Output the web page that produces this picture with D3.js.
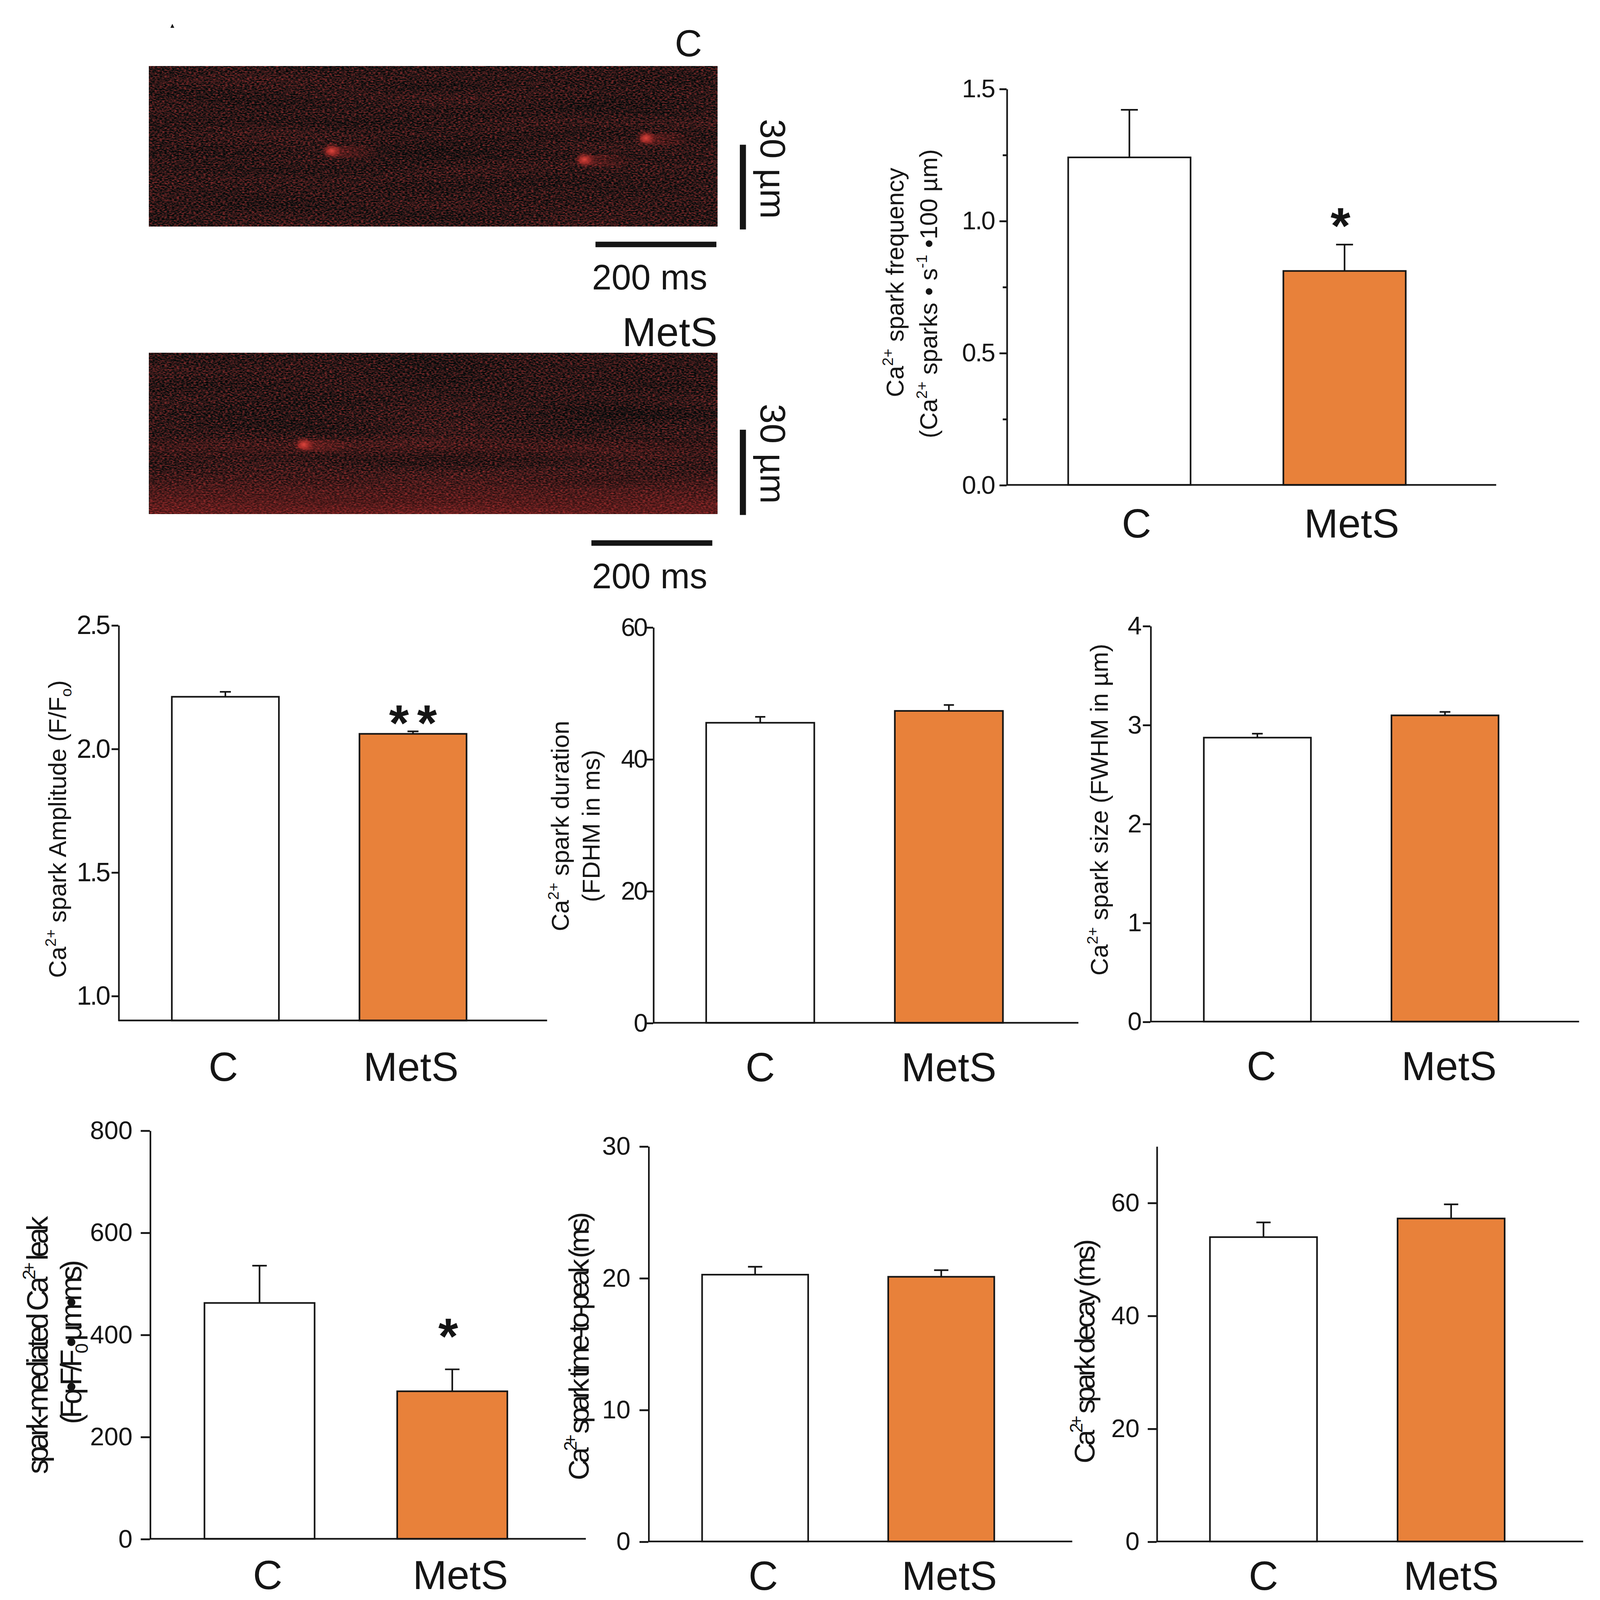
<!DOCTYPE html>
<html>
<head>
<meta charset="utf-8">
<script src="https://cdn.jsdelivr.net/npm/d3@7"></script>
<style>
  html, body { margin: 0; padding: 0; background: #fff; overflow: hidden; }
  svg { display: block; width: 100vw; height: 100vh; }
</style>
</head>
<body>
<div id="fig"></div>
<script>
// ---- data ----
var groups = ["C", "MetS"];

var freqMean = [1.24, 0.81],  freqSem = [0.18, 0.10],  freqSig = ["", "*"];
var ampMean = [2.21, 2.06],   ampSem = [0.02, 0.01],   ampSig = ["", "**"];
var durMean = [45.5, 47.3],   durSem = [0.9, 0.9],     durSig = ["", ""];
var sizeMean = [2.87, 3.095], sizeSem = [0.04, 0.035], sizeSig = ["", ""];
var leakMean = [462, 289],    leakSem = [73, 43],      leakSig = ["", "*"];
var ttpMean = [20.25, 20.09], ttpSem = [0.6, 0.5],     ttpSig = ["", ""];
var decayMean = [53.9, 57.2], decaySem = [2.6, 2.5],   decaySig = ["", ""];

var freqTicks = [0, 0.5, 1.0, 1.5], freqMinor = [0.25, 0.75, 1.25];
var ampTicks = [1.0, 1.5, 2.0, 2.5];
var durTicks = [0, 20, 40, 60];
var sizeTicks = [0, 1, 2, 3, 4];
var leakTicks = [0, 200, 400, 600, 800];
var ttpTicks = [0, 10, 20, 30];
var decayTicks = [0, 20, 40, 60];

// line-scan images: spark time (ms) and position (µm)
var scanTimeMax = 940, scanPosMax = 56.7;
var sparkTimeC = [302, 720, 822], sparkPosC = [30.0, 33.1, 25.5];
var sparkTimeM = [256], sparkPosM = [32.3];
var scaleBarMs = 200, scaleBarUm = 30;

// ---- setup ----
var W = 1536, H = 1569;
var FONT = "'Liberation Sans', Arial, Helvetica, sans-serif";
var ORANGE = "#E8813A", INK = "#151515";

var svg = d3.select("#fig").append("svg")
    .attr("viewBox", "0 0 " + W + " " + H)
    .style("font-family", FONT);

var defs = svg.append("defs");

// noisy dark-red texture for the confocal line scans
var f = defs.append("filter").attr("id", "noise")
    .attr("x", 0).attr("y", 0).attr("width", 1).attr("height", 1)
    .attr("color-interpolation-filters", "sRGB");
f.append("feTurbulence").attr("type", "fractalNoise").attr("baseFrequency", "0.42 0.8")
    .attr("numOctaves", 2).attr("seed", 7).attr("result", "fine");
f.append("feTurbulence").attr("type", "fractalNoise").attr("baseFrequency", "0.006 0.07")
    .attr("numOctaves", 1).attr("seed", 2).attr("result", "band");
f.append("feComposite").attr("in", "fine").attr("in2", "band").attr("operator", "arithmetic")
    .attr("k1", 0).attr("k2", 0.9).attr("k3", 0.12).attr("k4", -0.01).attr("result", "mix");
f.append("feColorMatrix").attr("in", "mix").attr("type", "matrix")
    .attr("values", "1.3 0 0 0 -0.46  0.3 0 0 0 -0.06  0.3 0 0 0 -0.06  0 0 0 0 1");

var core = defs.append("radialGradient").attr("id", "sparkCore");
core.append("stop").attr("offset", 0).attr("stop-color", "#ec4a40").attr("stop-opacity", 0.9);
core.append("stop").attr("offset", 0.5).attr("stop-color", "#c8342e").attr("stop-opacity", 0.55);
core.append("stop").attr("offset", 1).attr("stop-color", "#a02626").attr("stop-opacity", 0);

var tail = defs.append("linearGradient").attr("id", "sparkTail");
tail.append("stop").attr("offset", 0).attr("stop-color", "#b82c2a").attr("stop-opacity", 0.4);
tail.append("stop").attr("offset", 1).attr("stop-color", "#b82c2a").attr("stop-opacity", 0);

var glow = defs.append("linearGradient").attr("id", "bottomGlow")
    .attr("x1", 0).attr("y1", 0).attr("x2", 0).attr("y2", 1);
[[0, 0], [0.5, 0], [0.58, 0.1], [0.7, 0.03], [0.85, 0.18], [1, 0.36]].forEach(function(s) {
  glow.append("stop").attr("offset", s[0]).attr("stop-color", "#c82a2a").attr("stop-opacity", s[1]);
});

// ---- line-scan panels ----
var scans = [
  {top: 64.8, h: 157, t: sparkTimeC, p: sparkPosC, label: "C", labelX: 672, labelY: 55.3, labelSize: 37,
   vbarBottom: 225, hbarEnd: 686, hbarY: 239.7, msY: 284, umY: 165.6, glow: false},
  {top: 346, h: 158, t: sparkTimeM, p: sparkPosM, label: "MetS", labelX: 687, labelY: 339.3, labelSize: 40,
   vbarBottom: 505, hbarEnd: 682, hbarY: 532.5, msY: 577, umY: 445, glow: true}
];

scans.forEach(function(s) {
  var left = 129.8, right = 687;
  var xs = d3.scaleLinear().domain([0, scanTimeMax]).range([left, right]);
  var ys = d3.scaleLinear().domain([0, scanPosMax]).range([s.top, s.top + s.h]);
  var g = svg.append("g");

  g.append("rect").attr("x", left).attr("y", s.top).attr("width", right - left).attr("height", s.h)
      .attr("fill", "#2a1a1a").attr("filter", "url(#noise)");
  if (s.glow) {
    g.append("rect").attr("x", left).attr("y", s.top).attr("width", right - left).attr("height", s.h)
        .attr("fill", "url(#bottomGlow)");
  }

  // sparks
  var sp = s.t.map(function(d, i) { return {t: d, p: s.p[i]}; });
  g.selectAll(".tail").data(sp).join("ellipse")
      .attr("cx", function(d) { return xs(d.t) + 22; })
      .attr("cy", function(d) { return ys(d.p) + 1; })
      .attr("rx", 28).attr("ry", 6)
      .attr("fill", "url(#sparkTail)");
  g.selectAll(".core").data(sp).join("ellipse")
      .attr("cx", function(d) { return xs(d.t); })
      .attr("cy", function(d) { return ys(d.p); })
      .attr("rx", 10).attr("ry", 8)
      .attr("fill", "url(#sparkCore)");

  // scale bars
  var umLen = ys(scaleBarUm) - ys(0);
  g.append("rect").attr("x", 709).attr("y", s.vbarBottom - umLen).attr("width", 6).attr("height", umLen)
      .attr("fill", INK);
  var msLen = xs(scaleBarMs) - xs(0);
  g.append("rect").attr("x", s.hbarEnd - msLen).attr("y", s.hbarY - 2.7).attr("width", msLen).attr("height", 5.4)
      .attr("fill", INK);

  g.append("text").attr("x", 564).attr("y", s.msY)
      .style("font-size", "34.5px").attr("fill", INK).text(scaleBarMs + " ms");
  g.append("text").attr("transform", "translate(741.5," + s.umY + ") rotate(90)")
      .attr("text-anchor", "middle").attr("dy", "0.35em")
      .style("font-size", "35px").attr("fill", INK).text(scaleBarUm + " µm");

  g.append("text").attr("x", s.labelX).attr("y", s.labelY).attr("text-anchor", "end")
      .style("font-size", s.labelSize + "px").attr("fill", INK).text(s.label);
});

// tiny mark at top left
svg.append("path").attr("d", "M150.6,27.3L152.5,23.4L154.4,27.3Z").attr("fill", INK);

// ---- bar charts ----
function richText(g, segs, size) {
  var t = g.append("text").attr("y", 0.35 * size);
  var shift = 0;
  segs.forEach(function(s) {
    var target = s.s === "sup" ? -0.42 * size : (s.s === "sub" ? 0.22 * size : 0);
    t.append("tspan")
        .attr("dy", target - shift)
        .style("font-size", (s.s ? size * 0.62 : size) + "px")
        .text(s.t);
    shift = target;
  });
  return t;
}

var f1 = d3.format(".1f"), f0 = d3.format("d");

var panels = [
  {mean: freqMean, sem: freqSem, sig: freqSig, ticks: freqTicks, minor: freqMinor, domain: [0, 1.5], fmt: f1,
   ax: 970.6, axEnd: 1450.7, yBot: 475.5, yTop: 87, barOff: 60.4, barW: 120, gap: 91, capW: 16.6,
   tickLen: 7, tickPad: 5, tickFont: 25, tickLS: -1, labPad: 23, labDx: 7, starGap: 29,
   labFont: 24, labels: [
     {x: 861, y: 277, segs: [{t: "Ca"}, {t: "2+", s: "sup"}, {t: " spark frequency"}]},
     {x: 894, y: 288, segs: [{t: "(Ca"}, {t: "2+", s: "sup"}, {t: " sparks • s"}, {t: "-1", s: "sup"}, {t: " •100 µm)"}]}]},
  {mean: ampMean, sem: ampSem, sig: ampSig, ticks: ampTicks, domain: [0.9, 2.5], fmt: f1,
   ax: 99.6, axEnd: 520, yBot: 1000.7, yTop: 613, barOff: 52.4, barW: 105, gap: 79, capW: 10.8,
   tickLen: 6.7, tickPad: 2.5, tickFont: 26, tickLS: -1.5, labPad: 31, labDx: -2, starGap: 19,
   labFont: 24, labels: [
     {x: 40, y: 813, segs: [{t: "Ca"}, {t: "2+", s: "sup"}, {t: " spark Amplitude (F/F"}, {t: "o", s: "sub"}, {t: ")"}]}]},
  {mean: durMean, sem: durSem, sig: durSig, ticks: durTicks, domain: [0, 60], fmt: f0,
   ax: 624, axEnd: 1041, yBot: 1003, yTop: 615, barOff: 52, barW: 106, gap: 79, capW: 10,
   tickLen: 6.7, tickPad: 0, tickFont: 25, tickLS: -1.5, labPad: 29, labDx: 0, starGap: 20,
   labFont: 24, labels: [
     {x: 533, y: 810, segs: [{t: "Ca"}, {t: "2+", s: "sup"}, {t: " spark duration"}]},
     {x: 563, y: 810, segs: [{t: "(FDHM in ms)"}]}]},
  {mean: sizeMean, sem: sizeSem, sig: sizeSig, ticks: sizeTicks, domain: [0, 4], fmt: f0,
   ax: 1111.6, axEnd: 1532, yBot: 1001.8, yTop: 613.7, barOff: 52.4, barW: 105, gap: 79, capW: 10.5,
   tickLen: 7.4, tickPad: 2, tickFont: 25, tickLS: -1, labPad: 29, labDx: 4, starGap: 20,
   labFont: 24, labels: [
     {x: 1061.6, y: 794, segs: [{t: "Ca"}, {t: "2+", s: "sup"}, {t: " spark size (FWHM in µm)"}]}]},
  {mean: leakMean, sem: leakSem, sig: leakSig, ticks: leakTicks, domain: [0, 800], fmt: f0,
   ax: 130.5, axEnd: 558, yBot: 1509, yTop: 1108.5, barOff: 53.5, barW: 108, gap: 81, capW: 14.2,
   tickLen: 9, tickPad: 8, tickFont: 25, tickLS: 0, labPad: 21, labDx: 8, starGap: 43,
   labFont: 29, labels: [
     {x: 20, y: 1319, len: 253, segs: [{t: "spark-mediated Ca"}, {t: "2+", s: "sup"}, {t: " leak"}]},
     {x: 53, y: 1316, len: 161, segs: [{t: "(Fq•F/F"}, {t: "0", s: "sub"}, {t: "•µm•ms)"}]}]},
  {mean: ttpMean, sem: ttpSem, sig: ttpSig, ticks: ttpTicks, domain: [0, 30], fmt: f0,
   ax: 619.3, axEnd: 1035, yBot: 1511.6, yTop: 1124, barOff: 52.7, barW: 104, gap: 78.5, capW: 14,
   tickLen: 8.7, tickPad: 8.8, tickFont: 25, tickLS: 0, labPad: 19, labDx: 8, starGap: 20,
   labFont: 28, labels: [
     {x: 551, y: 1320, len: 263, segs: [{t: "Ca"}, {t: "2+", s: "sup"}, {t: " spark time-to-peak (ms)"}]}]},
  {mean: decayMean, sem: decaySem, sig: decaySig, ticks: decayTicks, domain: [0, 70], fmt: f0,
   ax: 1117.7, axEnd: 1536, yBot: 1511.6, yTop: 1124, barOff: 52.3, barW: 105, gap: 79, capW: 14,
   tickLen: 8.7, tickPad: 8, tickFont: 25, tickLS: 0, labPad: 19, labDx: 0, starGap: 20,
   labFont: 28, labels: [
     {x: 1047, y: 1325, len: 220, segs: [{t: "Ca"}, {t: "2+", s: "sup"}, {t: " spark decay (ms)"}]}]}
];

function drawPanel(p) {
  var g = svg.append("g");
  var y = d3.scaleLinear().domain(p.domain).range([p.yBot, p.yTop]);
  var x = d3.scaleBand().domain(groups)
      .range([p.ax + p.barOff, p.ax + p.barOff + 2 * p.barW + p.gap])
      .paddingInner(p.gap / (p.barW + p.gap)).paddingOuter(0);
  var bw = x.bandwidth();
  var base = y(p.domain[0]);

  // bars
  g.selectAll(".bar").data(groups).join("rect")
      .attr("class", "bar")
      .attr("x", function(d) { return x(d); })
      .attr("width", bw)
      .attr("y", function(d, i) { return y(p.mean[i]); })
      .attr("height", function(d, i) { return base - y(p.mean[i]); })
      .attr("fill", function(d, i) { return i ? ORANGE : "#fff"; })
      .attr("stroke", INK).attr("stroke-width", 1.6);

  // error bars (upper SEM only)
  g.selectAll(".err").data(groups).join("line")
      .attr("x1", function(d) { return x(d) + bw / 2; })
      .attr("x2", function(d) { return x(d) + bw / 2; })
      .attr("y1", function(d, i) { return y(p.mean[i]); })
      .attr("y2", function(d, i) { return y(p.mean[i] + p.sem[i]); })
      .attr("stroke", INK).attr("stroke-width", 1.6);
  g.selectAll(".cap").data(groups).join("line")
      .attr("x1", function(d) { return x(d) + bw / 2 - p.capW / 2; })
      .attr("x2", function(d) { return x(d) + bw / 2 + p.capW / 2; })
      .attr("y1", function(d, i) { return y(p.mean[i] + p.sem[i]); })
      .attr("y2", function(d, i) { return y(p.mean[i] + p.sem[i]); })
      .attr("stroke", INK).attr("stroke-width", 1.6);

  // significance stars
  g.selectAll(".sig").data(p.sig).join("text")
      .attr("x", function(d, i) { return x(groups[i]) + bw / 2 + (d.length > 1 ? 4 : 0); })
      .attr("y", function(d, i) { return y(p.mean[i] + p.sem[i]) - p.starGap + 28; })
      .attr("text-anchor", "middle")
      .style("font-size", "50px").style("font-weight", "bold")
      .style("letter-spacing", "8px")
      .attr("fill", INK)
      .text(function(d) { return d; });

  // y axis
  var ga = g.append("g").attr("transform", "translate(" + p.ax + ",0)")
      .call(d3.axisLeft(y).tickValues(p.ticks).tickSize(p.tickLen).tickSizeOuter(0)
        .tickPadding(p.tickPad).tickFormat(p.fmt));
  if (p.minor) {
    g.append("g").attr("transform", "translate(" + p.ax + ",0)")
        .call(d3.axisLeft(y).tickValues(p.minor).tickSize(3.8).tickFormat(""))
        .call(function(a) { a.select(".domain").remove(); });
  }
  g.selectAll(".domain").attr("stroke", INK).attr("stroke-width", 1.6);
  g.selectAll(".tick line").attr("stroke", INK).attr("stroke-width", 1.8);
  ga.attr("font-family", FONT);
  ga.selectAll(".tick text").attr("fill", INK)
      .style("font-size", p.tickFont + "px")
      .style("letter-spacing", p.tickLS + "px");

  // x axis line and group labels
  g.append("line").attr("x1", p.ax).attr("x2", p.axEnd).attr("y1", base).attr("y2", base)
      .attr("stroke", INK).attr("stroke-width", 1.6);
  g.append("g").attr("transform", "translate(" + p.labDx + "," + base + ")")
      .call(d3.axisBottom(x).tickSize(0).tickPadding(p.labPad))
      .call(function(a) { a.select(".domain").remove(); })
      .attr("font-family", FONT)
      .selectAll("text").attr("fill", INK).style("font-size", "40px");

  // y title
  p.labels.forEach(function(l) {
    var lg = g.append("g").attr("transform", "translate(" + l.x + "," + l.y + ") rotate(-90)");
    var t = richText(lg, l.segs, p.labFont).attr("text-anchor", "middle").attr("fill", INK);
    if (l.len) t.attr("textLength", l.len).attr("lengthAdjust", "spacing");
  });
}

panels.forEach(drawPanel);
</script>
</body>
</html>
